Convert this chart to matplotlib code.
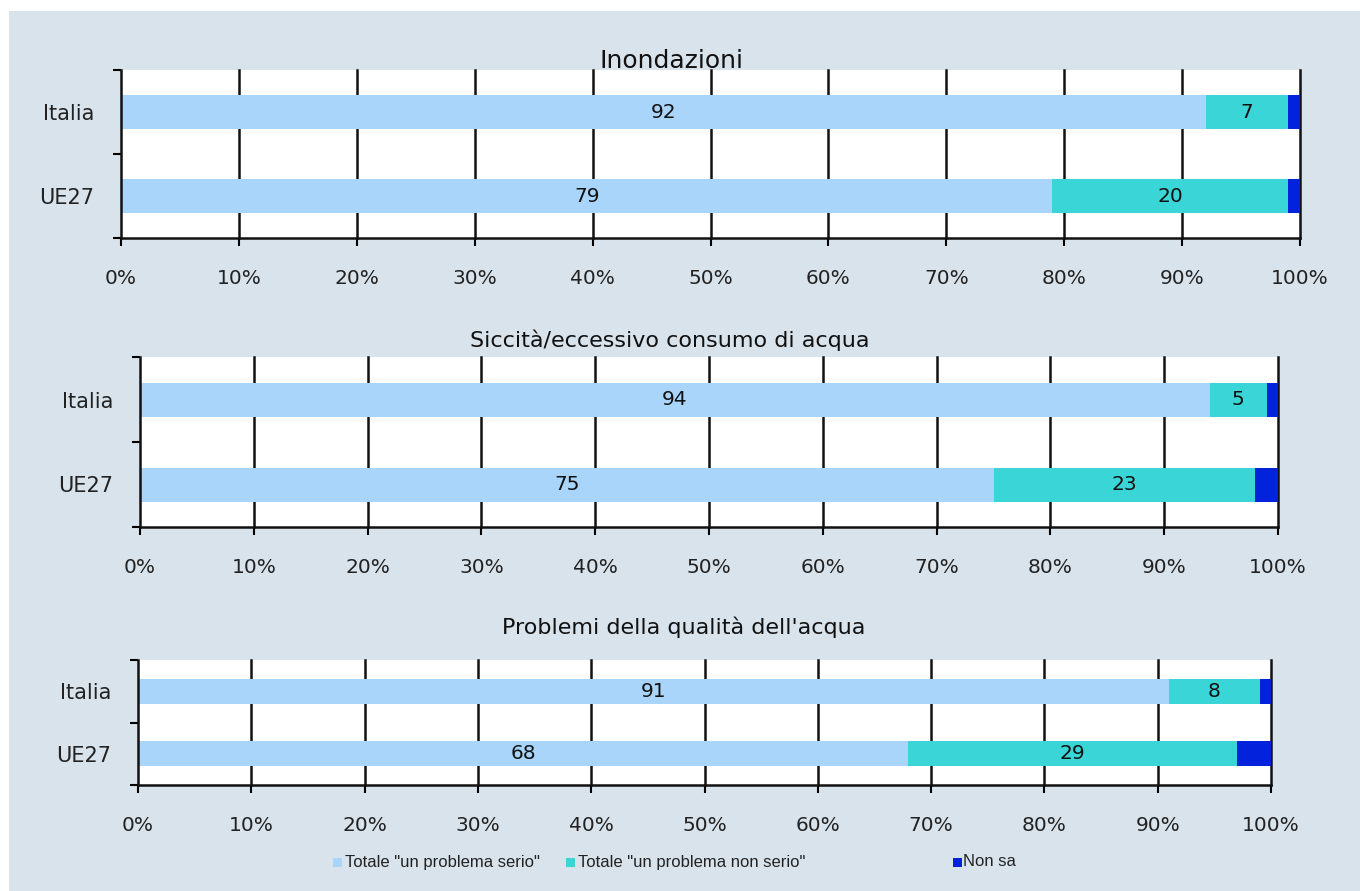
import matplotlib
matplotlib.use("Agg")
import matplotlib.pyplot as plt
from matplotlib.patches import Rectangle

plt.rcParams['font.family'] = ['DejaVu Sans']

categories = ["Italia", "UE27"]
series_names = ['Totale "un problema serio"', 'Totale "un problema non serio"', 'Non sa']
colors = ["#a9d5fb", "#3ad5d6", "#0322dc"]

titles = ["Inondazioni", "Siccità/eccessivo consumo di acqua", "Problemi della qualità dell'acqua"]
serio = [[92, 79], [94, 75], [91, 68]]
non_serio = [[7, 20], [5, 23], [8, 29]]
non_sa = [[1, 1], [1, 2], [1, 3]]
x_ticks = [0, 10, 20, 30, 40, 50, 60, 70, 80, 90, 100]
x_tick_labels = [f"{t}%" for t in x_ticks]

W, H = 1360, 891
fig = plt.figure(figsize=(W / 100, H / 100), dpi=100)
fig.patch.set_facecolor("white")
fig.patches.append(Rectangle((9 / W, 0), 1 - 9 / W, 1 - 11 / H, transform=fig.transFigure,
                             facecolor="#d9e3ec", edgecolor="none", zorder=-10))

# panel boxes in pixels: left, right, top, bottom; title position and size
panels = [
    dict(box=(121, 1300, 70, 238), title_xy=(672, 61), title_size=18),
    dict(box=(140, 1278, 357, 527), title_xy=(670, 340), title_size=16),
    dict(box=(138, 1271, 660, 785), title_xy=(684, 627), title_size=16),
]

for i, p in enumerate(panels):
    l, r, t, b = p["box"]
    ax = fig.add_axes([l / W, 1 - b / H, (r - l) / W, (b - t) / H])
    ax.set_facecolor("white")
    ypos = list(range(len(categories)))
    s1, s2, s3 = serio[i], non_serio[i], non_sa[i]
    left2 = s1
    left3 = [a + c for a, c in zip(s1, s2)]
    bh = 0.4
    b1 = ax.barh(ypos, s1, height=bh, color=colors[0], zorder=3)
    b2 = ax.barh(ypos, s2, left=left2, height=bh, color=colors[1], zorder=3)
    ax.barh(ypos, s3, left=left3, height=bh, color=colors[2], zorder=3)
    ax.bar_label(b1, labels=[str(v) for v in s1], label_type="center", fontsize=14.5, color="#111111")
    ax.bar_label(b2, labels=[str(v) for v in s2], label_type="center", fontsize=14.5, color="#111111")

    ax.set_xlim(0, 100)
    ax.set_ylim(len(categories) - 0.5, -0.5)
    ax.set_xticks(x_ticks)
    ax.set_xticklabels(x_tick_labels, fontsize=14.5, color="#222222")
    ax.tick_params(axis="x", direction="out", length=6, width=1.5, pad=16, colors="black",
                   labelcolor="#222222")
    ax.set_yticks(ypos)
    ax.set_yticklabels(categories, fontsize=15, color="#222222")
    ax.tick_params(axis="y", which="major", length=0, pad=19)
    ax.set_yticks([-0.5, 0.5, 1.5], minor=True)
    ax.tick_params(axis="y", which="minor", direction="out", length=6, width=1.5, color="black")

    for gx in x_ticks[1:]:
        ax.axvline(gx, color="#111111", lw=1.8, zorder=1, clip_on=False)
    for side in ["top", "right"]:
        ax.spines[side].set_visible(False)
    for side in ["left", "bottom"]:
        ax.spines[side].set_linewidth(1.8)
        ax.spines[side].set_color("#111111")
        ax.spines[side].set_zorder(4)

    tx, ty = p["title_xy"]
    fig.text(tx / W, 1 - ty / H, titles[i], ha="center", va="center",
             fontsize=p["title_size"], color="#111111")

# legend row at the bottom
legend_items = [(333, 345), (566, 578), (953, 963)]
ly = 862
for (mx, tx), name, c in zip(legend_items, series_names, colors):
    fig.patches.append(Rectangle((mx / W, 1 - (ly + 5) / H), 9 / W, 9 / H,
                                 transform=fig.transFigure, facecolor=c, edgecolor="none"))
    fig.text(tx / W, 1 - ly / H, name, ha="left", va="center", fontsize=12,
             family="Liberation Sans", color="#222222")

fig.savefig("out.png", dpi=100, facecolor=fig.get_facecolor())
